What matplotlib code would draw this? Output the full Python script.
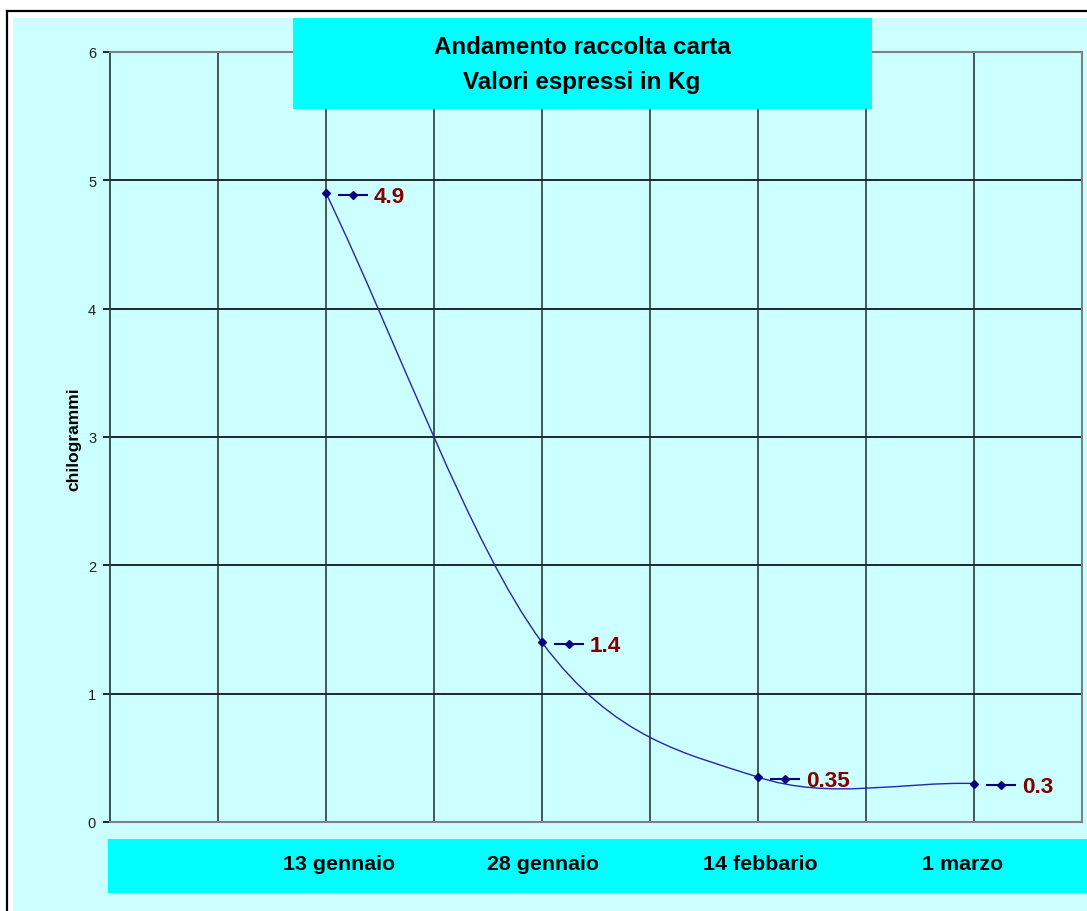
import matplotlib
matplotlib.use("Agg")
import matplotlib.pyplot as plt
from matplotlib import transforms
from matplotlib.patches import Rectangle, PathPatch
from matplotlib.path import Path
from matplotlib.lines import Line2D
import numpy as np

# --- data ---
categories = ["13 gennaio", "28 gennaio", "14 febbario", "1 marzo"]
slots = [2, 4, 6, 8]          # category slot on the 0..9 axis
values = [4.9, 1.4, 0.35, 0.3]
yticks = [0, 1, 2, 3, 4, 5, 6]
title_lines = ["Andamento raccolta carta", "Valori espressi in Kg"]
ylabel = "chilogrammi"

# small pixel nudges of the category labels (as in the picture)
cat_nudge = [13, 1, 2, -11]

W, H = 1087, 912
LIGHT = "#CCFFFF"
CYAN = "#00FFFF"
NAVY = "#000080"
LINE = "#2626a6"
DARKRED = "#800000"
FONT = "Liberation Sans"


def fx(px):
    return px / W


def fy(py):
    return 1 - py / H


fig = plt.figure(figsize=(W / 100, H / 100), dpi=100, facecolor="white")

# background + frame
fig.add_artist(Rectangle((fx(13), 0), 1, fy(19), transform=fig.transFigure,
                         facecolor=LIGHT, edgecolor="none", zorder=-2))
fig.add_artist(Line2D([fx(7), 1], [fy(12), fy(12)], transform=fig.transFigure,
                      color="black", lw=1.6, zorder=-1))
fig.add_artist(Line2D([fx(7), fx(7)], [0, fy(12)], transform=fig.transFigure,
                      color="black", lw=1.6, zorder=-1))

ax = fig.add_axes([fx(110), fy(823), (1082 - 110) / W, (823 - 53) / H])
ax.set_facecolor(LIGHT)
ax.set_xlim(0, 9)
ax.set_ylim(0, 6)
ax.set_xticks(range(1, 9))
ax.set_yticks(yticks)
ax.grid(axis="x", color="#3a4a4a", lw=1.3)
ax.grid(axis="y", color="#202828", lw=1.4)
ax.tick_params(axis="x", length=0, labelbottom=False)
ax.tick_params(axis="y", length=5, width=1.2, color="black", pad=5,
               labelsize=10.5, labelcolor="#202020")
for lab in ax.get_yticklabels():
    lab.set_family(FONT)
for side in ["top", "right", "bottom"]:
    ax.spines[side].set_color("#808080")
    ax.spines[side].set_linewidth(1.5)
ax.spines["left"].set_color("#304040")
ax.spines["left"].set_linewidth(1.3)

# smoothed line (Excel-like bezier through the points)
P = np.column_stack([slots, values]).astype(float)
n = len(P)
T = np.zeros_like(P)
T[0] = P[1] - P[0]
T[-1] = P[-1] - P[-2]
for i in range(1, n - 1):
    T[i] = (P[i + 1] - P[i - 1]) / 2
verts = [tuple(P[0])]
codes = [Path.MOVETO]
for i in range(n - 1):
    verts += [tuple(P[i] + T[i] / 3), tuple(P[i + 1] - T[i + 1] / 3), tuple(P[i + 1])]
    codes += [Path.CURVE4] * 3
ax.add_patch(PathPatch(Path(verts, codes), facecolor="none", edgecolor=LINE, lw=1.0, zorder=3))
ax.plot(slots, values, linestyle="none", marker="D", ms=3.8, color=NAVY, zorder=4)

# data labels with legend key
for xv, yv in zip(slots, values):
    tr = transforms.offset_copy(ax.transData, fig=fig, x=27, y=-1.5, units="dots")
    ax.plot([xv], [yv], marker="_", ms=30 * 0.72, mew=1.5, color=NAVY, transform=tr, zorder=4)
    ax.plot([xv], [yv], marker="D", ms=3.8, color=NAVY, transform=tr, zorder=5)
    tt = transforms.offset_copy(ax.transData, fig=fig, x=48, y=-9, units="dots")
    ax.text(xv, yv, f"{yv:g}", transform=tt, ha="left", va="baseline",
            family=FONT, fontsize=16.2, fontweight="bold", color=DARKRED, zorder=5)

# title box (drawn over the grid)
fig.add_artist(Rectangle((fx(293), fy(110)), (872 - 293) / W, (110 - 19) / H,
                         transform=fig.transFigure, facecolor=CYAN, edgecolor="none", zorder=5))
fig.text(fx(582), fy(54), title_lines[0], ha="center", va="baseline", family=FONT,
         fontsize=17.4, fontweight="bold", color="black", zorder=6)
fig.text(fx(582), fy(89), title_lines[1], ha="center", va="baseline", family=FONT,
         fontsize=17.4, fontweight="bold", color="black", zorder=6)

# category box
fig.add_artist(Rectangle((fx(108), fy(894)), 1, (894 - 840) / H,
                         transform=fig.transFigure, facecolor=CYAN, edgecolor="none", zorder=5))
bx = transforms.blended_transform_factory(ax.transData, fig.transFigure)
for xv, lab, dx in zip(slots, categories, cat_nudge):
    tc = transforms.offset_copy(bx, fig=fig, x=dx, y=0, units="dots")
    fig.text(xv, fy(870), lab, transform=tc, ha="center", va="baseline", family=FONT,
             fontsize=15.4, fontweight="bold", color="black", zorder=6)

fig.text(fx(74), fy(439), ylabel, rotation=90, ha="center", va="center", family=FONT,
         fontsize=12.5, fontweight="bold", color="black")

fig.savefig("out.png", dpi=100, facecolor="white")
